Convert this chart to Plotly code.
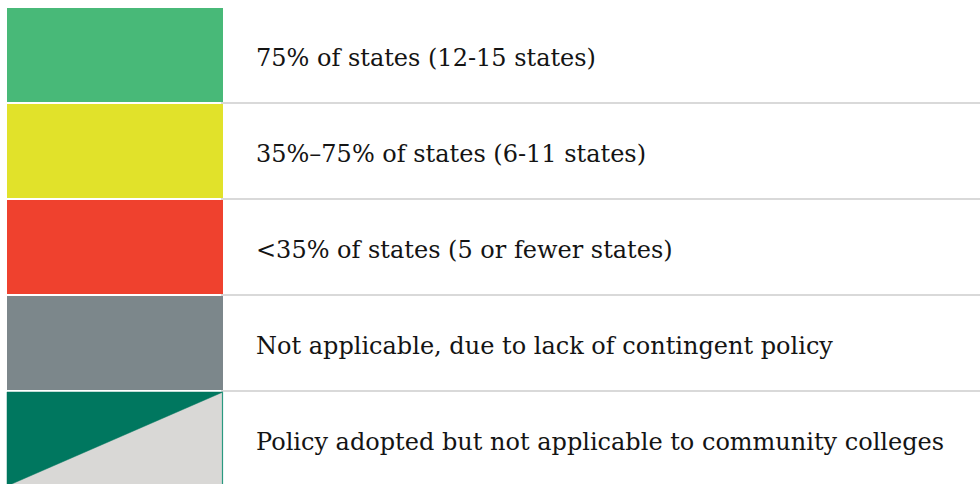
import plotly.graph_objects as go

labels = [
    "75% of states (12-15 states)",
    "35%–75% of states (6-11 states)",
    "<35% of states (5 or fewer states)",
    "Not applicable, due to lack of contingent policy",
    "Policy adopted but not applicable to community colleges",
]
colors = ["#48b978", "#e1e22a", "#ef412e", "#7c878b", "#d9d8d6"]
split_color = "#00775f"  # upper-left half of the last swatch

rows = list(range(len(labels)))
sw_left, sw_right = 7, 223
bar_w = 94 / 96
half = bar_w / 2
text_x = 256

fig = go.Figure()

# separator lines
for i in rows[:-1]:
    fig.add_trace(go.Scatter(
        x=[sw_right - 2, 980], y=[i + 0.5, i + 0.5], mode="lines",
        line=dict(color="#d9d9d9", width=2), hoverinfo="skip", showlegend=False))

# swatches
fig.add_trace(go.Bar(
    y=rows, x=[sw_right - sw_left] * len(rows), base=[sw_left] * len(rows),
    orientation="h", width=bar_w, marker=dict(color=colors, line=dict(width=0)),
    hoverinfo="skip", showlegend=False))

# diagonal split on last swatch
last = rows[-1]
fig.add_trace(go.Scatter(
    x=[sw_left, sw_right, sw_left, sw_left],
    y=[last + half, last - half, last - half, last + half],
    mode="lines", fill="toself", fillcolor=split_color,
    line=dict(color=split_color, width=0.5), hoverinfo="skip", showlegend=False))
fig.add_trace(go.Scatter(
    x=[sw_right - 0.5, sw_right - 0.5], y=[last - half, last + half],
    mode="lines", line=dict(color="#2a9a80", width=1.2),
    hoverinfo="skip", showlegend=False))

# labels
fig.add_trace(go.Scatter(
    x=[text_x] * len(rows), y=[r + 0.05 for r in rows], mode="text", text=labels,
    textposition="middle right",
    textfont=dict(family="DejaVu Serif", size=24, color="#141414"),
    hoverinfo="skip", showlegend=False))

fig.update_layout(
    width=980, height=484, margin=dict(l=0, r=0, t=0, b=0),
    paper_bgcolor="white", plot_bgcolor="white", bargap=0,
    xaxis=dict(range=[0, 980], visible=False, fixedrange=True),
    yaxis=dict(range=[(484 - 55) / 96, -55 / 96], visible=False, fixedrange=True),
    hovermode=False,
)

fig.write_html("out.html", config={"displayModeBar": False},
               post_script="document.body.style.margin='0';document.body.style.overflow='hidden';")
